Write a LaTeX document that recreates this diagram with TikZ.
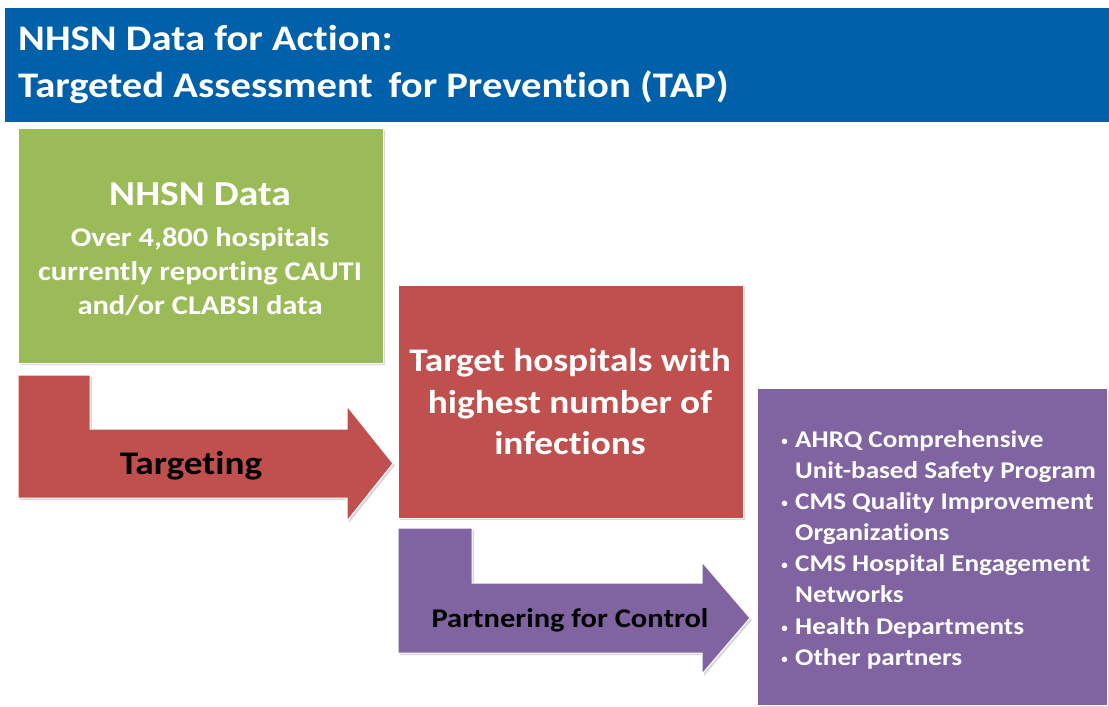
\documentclass[tikz,border=0pt]{standalone}
\usepackage{fontspec}
\setmainfont{Carlito}[Ligatures=NoCommon]
\usetikzlibrary{shadows}
\definecolor{tapblue}{HTML}{0061AA}
\definecolor{tapgreen}{HTML}{9BBB59}
\definecolor{tapred}{HTML}{C0504D}
\definecolor{tappurple}{HTML}{8064A2}
% the slide's text is set a little wide
\newcommand\wide[1]{\scalebox{1.13}[1]{#1}}
\tikzset{
  panel/.style={draw=white, line width=1pt,
    drop shadow={shadow xshift=2pt, shadow yshift=-2pt, opacity=.3}},
  wtxt/.style={text=white, inner sep=0pt, anchor=base},
  btxt/.style={text=black, inner sep=0pt, anchor=base},
  listtxt/.style={text=white, inner sep=0pt, anchor=base west,
    font=\fontsize{24}{28}\selectfont\bfseries},
}
\begin{document}
\begin{tikzpicture}[x=1pt, y=-1pt]
  \fill[white] (0,0) rectangle (1109,707);
  \useasboundingbox (0,0) rectangle (1109,707);
  % header
  \fill[tapblue] (5,8) rectangle (1109,122);
  \node[wtxt, anchor=base west, font=\fontsize{36}{40}\selectfont\bfseries] (title1) at (18,50)
    {\wide{NHSN Data for Action:}};
  \node[wtxt, anchor=base west, font=\fontsize{36}{40}\selectfont\bfseries] (title2) at (18,97)
    {\wide{Targeted Assessment\, for Prevention (TAP)}};
  % boxes
  \fill[tapgreen, panel] (18,128) rectangle (383,363);
  \fill[tapred, panel] (398,285) rectangle (743,518);
  \fill[tappurple, panel] (757,388) rectangle (1107,705);
  % bent arrows
  \fill[tapred, panel] (18,375) -- (90,375) -- (90,429) -- (347,429) -- (347,406)
    -- (393,463.5) -- (347,521) -- (347,498) -- (18,498) -- cycle;
  \fill[tappurple, panel] (398,528) -- (472,528) -- (472,583) -- (702,583) -- (702,562)
    -- (750,618) -- (702,674) -- (702,653) -- (398,653) -- cycle;
  % green box text
  \node[wtxt, font=\fontsize{35}{40}\selectfont\bfseries] (data) at (200,205) {\wide{NHSN Data}};
  \node[wtxt, font=\fontsize{27}{30}\selectfont\bfseries] (data1) at (200,246) {\wide{Over 4,800 hospitals}};
  \node[wtxt, font=\fontsize{27}{30}\selectfont\bfseries] (data2) at (200,280) {\wide{currently reporting CAUTI}};
  \node[wtxt, font=\fontsize{27}{30}\selectfont\bfseries] (data3) at (200,314) {\wide{and/or CLABSI data}};
  % red box text
  \node[wtxt, font=\fontsize{33}{38}\selectfont\bfseries] (target1) at (570,371) {\wide{Target hospitals with}};
  \node[wtxt, font=\fontsize{33}{38}\selectfont\bfseries] (target2) at (570,413) {\wide{highest number of}};
  \node[wtxt, font=\fontsize{33}{38}\selectfont\bfseries] (target3) at (570,454) {\wide{infections}};
  % arrow labels
  \node[btxt, font=\fontsize{33}{38}\selectfont\bfseries] (targeting) at (191,474) {\wide{Targeting}};
  \node[btxt, font=\fontsize{27}{30}\selectfont\bfseries] (partner) at (570,627) {\wide{Partnering for Control}};
  % partner list
  \foreach \y/\b/\t in {447/1/AHRQ Comprehensive, 478/0/Unit-based Safety Program,
      509/1/CMS Quality Improvement, 540/0/Organizations,
      571/1/CMS Hospital Engagement, 602/0/Networks,
      634/1/Health Departments, 665/1/Other partners} {
    \node[listtxt] (item\y) at (795,\y) {\wide{\t}};
    \ifnum\b=1
      \node[listtxt, anchor=base east] (dot\y) at (788,\y)
        {\raisebox{2pt}{\fontsize{13}{13}\selectfont\textbullet}};
    \fi
  }
\end{tikzpicture}
\end{document}
